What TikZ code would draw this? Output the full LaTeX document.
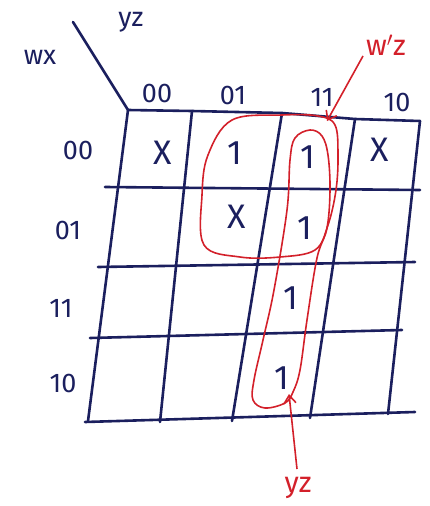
\documentclass[tikz,border=0pt]{standalone}
\usepackage{fontspec}
\setmainfont{Fira Sans}
\usetikzlibrary{arrows.meta}
\definecolor{ink}{HTML}{1B1F5E}
\definecolor{redink}{HTML}{D3202A}
\tikzset{
  gridline/.style={ink, line width=2.6pt, line cap=round, line join=round},
  loopline/.style={redink, line width=1.6pt},
  lbl/.style={ink, font=\fontsize{27}{27}\selectfont, inner sep=0pt},
  cell/.style={ink, font=\fontsize{34}{34}\selectfont, inner sep=0pt},
  redlbl/.style={redink, font=\fontsize{29}{29}\selectfont, inner sep=0pt},
  redarrow/.style={redink, line width=1.6pt, -{Straight Barb[length=8pt,width=12pt]}}
}
\begin{document}
\begin{tikzpicture}[x=1pt,y=-1pt]
\useasboundingbox (0,0) rectangle (429,506);
% grid
\draw[gridline] (128,110) -- (192,111) -- (282,113) -- (355,119) -- (420,121);
\draw[gridline] (105,187) -- (420,190);
\draw[gridline] (98,267) -- (415,262);
\draw[gridline] (90,338) -- (402,330);
\draw[gridline] (85,422) -- (415,412);
\draw[gridline] (128,110) -- (88,421);
\draw[gridline] (192,111) -- (160,422);
\draw[gridline] (282,113) -- (232,421);
\draw[gridline] (355,119) -- (310,418);
\draw[gridline] (420,121) -- (388,414);
\draw[gridline] (73,22) -- (128,110);
% headings
\node[lbl] (wx) at (40,57) {wx};
\node[lbl] (yz) at (131,22) {yz};
\node[lbl] (c00) at (157,93) {00};
\node[lbl] (c01) at (233,95) {01};
\node[lbl] (c11) at (322,97) {11};
\node[lbl] (c10) at (397,102) {10};
\node[lbl] (r00) at (78,150) {00};
\node[lbl] (r01) at (68,230) {01};
\node[lbl] (r11) at (61,308) {11};
\node[lbl] (r10) at (63,383) {10};
% cells
\node[cell] (m0) at (163,153) {X};
\node[cell] (m1) at (235,153) {1};
\node[cell] (m3) at (308,157) {1};
\node[cell] (m2) at (380,150) {X};
\node[cell] (m5) at (237,217) {X};
\node[cell] (m7) at (305,228) {1};
\node[cell] (m15) at (291,298) {1};
\node[cell] (m11) at (282,378) {1};
% red groups
\draw[loopline] plot[smooth cycle, tension=0.6] coordinates {(282,115) (232,120) (208,155) (202,195) (204,245) (240,257) (280,257) (315,250) (328,225) (336,190) (338,155) (335,125) (318,116)};
\draw[loopline] plot[smooth cycle, tension=0.6] coordinates {(310,130) (295,138) (290,160) (287,210) (274,290) (263,340) (254,380) (253,400) (265,408) (285,403) (293,392) (300,370) (307,320) (317,258) (327,228) (330,190) (328,155) (322,136)};
% red labels and arrows
\node[redlbl] (wz) at (386,45) {w$'$z};
\node[redlbl] (yzr) at (298,488) {yz};
\coordinate (wztip) at (327,121);
\coordinate (yztip) at (289,394);
\draw[redarrow] (363,56) -- (wztip);
\draw[redarrow] (297,469) -- (yztip);
\end{tikzpicture}
\end{document}
